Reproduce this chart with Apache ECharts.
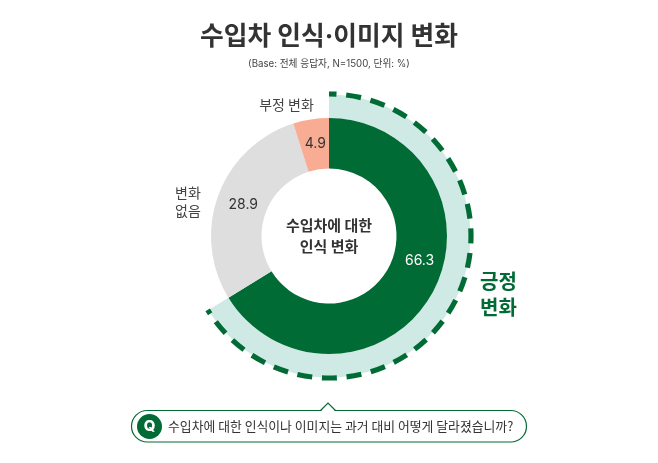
<!DOCTYPE html>
<html><head><meta charset="utf-8">
<style>html,body{margin:0;padding:0;background:#fff}#c{width:658px;height:463px}</style>
<script src="https://cdn.jsdelivr.net/npm/echarts@6/dist/echarts.min.js"></script>
</head><body><div id="c"></div>
<script>
const categories = ['긍정 변화', '변화 없음', '부정 변화'];
const values = [66.3, 28.9, 4.9];
const colors = ['#006b35', '#dedede', '#f8ac94'];
const labelOffsets = [[7, -22], [4, 2], [1, 2]];
const highlightedValue = 66.3;
const FONT = 'Inter, "Noto Sans CJK KR", sans-serif';
const KR = '"Noto Sans CJK KR", sans-serif';
const total = values.reduce((a, b) => a + b, 0);
const chart = echarts.init(document.getElementById('c'), null, {renderer: 'canvas'});
const center = [329, 236];
chart.setOption({
  animation: false,
  backgroundColor: '#fff',
  polar: {center: center, radius: 142},
  angleAxis: {show: false, min: 0, max: 100, startAngle: 90},
  radiusAxis: {show: false, min: 0, max: 1},
  series: [
    {
      type: 'pie', center: center, radius: [118, 141.5], startAngle: 90, silent: true, z: 1,
      label: {show: false}, labelLine: {show: false},
      data: [
        {value: highlightedValue, itemStyle: {color: '#cfe9e4'}},
        {value: total - highlightedValue, itemStyle: {color: 'rgba(0,0,0,0)'}}
      ]
    },
    {
      type: 'pie', center: center, radius: [67.5, 118], startAngle: 90, silent: true, z: 2,
      label: {show: true, position: 'inside', fontFamily: FONT, fontSize: 14, color: '#333',
        formatter: p => p.value.toFixed(1)},
      labelLine: {show: false},
      data: categories.map((n, i) => ({
        name: n, value: values[i], itemStyle: {color: colors[i]},
        label: i === 0 ? {color: '#fff', offset: labelOffsets[i]} : {offset: labelOffsets[i]}
      }))
    },
    {
      type: 'custom', coordinateSystem: 'polar', silent: true, z: 3,
      data: [[1, highlightedValue]],
      renderItem(params, api) {
        const cs = params.coordSys;
        const a0 = -Math.PI / 2;
        return {
          type: 'arc',
          shape: {cx: cs.cx, cy: cs.cy, r: cs.r,
            startAngle: a0, endAngle: a0 + api.value(1) / 100 * Math.PI * 2, clockwise: true},
          style: {fill: null, stroke: '#006b35', lineWidth: 5.2, lineDash: [15.05, 9.7], lineDashOffset: 7.5}
        };
      }
    }
  ],
  graphic: [
    {type: 'text', x: 329, y: 37, style: {text: '수입차 인식·이미지 변화', fontFamily: FONT, fontSize: 25.8, fontWeight: 700,
      fill: '#333', align: 'center', verticalAlign: 'middle'}},
    {type: 'text', x: 329, y: 64, style: {text: '(Base: 전체 응답자, N=1500, 단위: %)', fontFamily: FONT, fontSize: 9.7,
      fill: '#444', align: 'center', verticalAlign: 'middle'}},
    {type: 'text', x: 329, y: 236, style: {text: '수입차에 대한\n인식 변화', fontFamily: KR, fontSize: 15, fontWeight: 700,
      lineHeight: 21, fill: '#333', align: 'center', verticalAlign: 'middle'}},
    {type: 'text', x: 286.5, y: 105, style: {text: '부정 변화', fontFamily: KR, fontSize: 14,
      fill: '#444', align: 'center', verticalAlign: 'middle'}},
    {type: 'text', x: 188, y: 202, style: {text: '변화\n없음', fontFamily: KR, fontSize: 14, lineHeight: 18,
      fill: '#444', align: 'center', verticalAlign: 'middle'}},
    {type: 'text', x: 498.5, y: 294, style: {text: '긍정\n변화', fontFamily: KR, fontSize: 20, fontWeight: 700, lineHeight: 26,
      fill: '#006b35', align: 'center', verticalAlign: 'middle'}},
    {type: 'rect', shape: {x: 131.5, y: 410.5, width: 395, height: 31.5, r: 15.75},
      style: {fill: '#fff', stroke: '#006b35', lineWidth: 1.2}},
    {type: 'polygon', shape: {points: [[321, 411], [328, 403], [335, 411]]}, style: {fill: '#fff'}},
    {type: 'polyline', shape: {points: [[320.5, 410.5], [328, 403], [335.5, 410.5]]}, style: {fill: null, stroke: '#006b35', lineWidth: 1.2}},
    {type: 'circle', shape: {cx: 149.5, cy: 426.5, r: 12.5}, style: {fill: '#006b35'}},
    {type: 'text', x: 149.5, y: 426.5, style: {text: 'Q', fontFamily: FONT, fontSize: 15, fontWeight: 800,
      fill: '#fff', align: 'center', verticalAlign: 'middle'}},
    {type: 'text', x: 168, y: 426.5, style: {text: '수입차에 대한 인식이나 이미지는 과거 대비 어떻게 달라졌습니까?', fontFamily: KR, fontSize: 12.85,
      fill: '#333', align: 'left', verticalAlign: 'middle'}}
  ]
});
</script></body></html>
